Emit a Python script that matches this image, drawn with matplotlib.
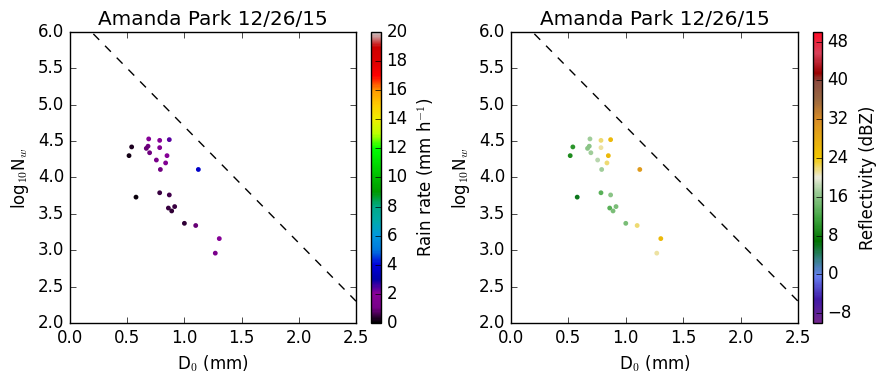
import matplotlib
matplotlib.use('Agg')
import matplotlib.pyplot as plt
import numpy as np
from matplotlib.colors import LinearSegmentedColormap

plt.style.use('classic')
plt.rcParams['figure.facecolor'] = 'white'
plt.rcParams['savefig.facecolor'] = 'white'
plt.rcParams['mathtext.fontset'] = 'cm'

# D0 (mm), log10 Nw, rain rate (mm/h), reflectivity (dBZ)
d0 = [0.516, 0.539, 0.577, 0.688, 0.682, 0.667, 0.696, 0.755, 0.784, 0.784,
      0.868, 0.848, 0.836, 0.790, 1.122, 0.784, 0.868, 0.860, 0.889, 0.915,
      1.000, 1.099, 1.305, 1.270]
lognw = [4.30, 4.42, 3.73, 4.53, 4.43, 4.40, 4.34, 4.24, 4.51, 4.41,
         4.52, 4.30, 4.20, 4.11, 4.11, 3.79, 3.76, 3.58, 3.54, 3.60,
         3.37, 3.34, 3.16, 2.96]
rain = [0.2, 0.3, 0.1, 1.9, 1.0, 0.9, 1.0, 1.1, 1.8, 1.6,
        2.4, 1.8, 1.6, 1.0, 3.6, 0.5, 0.6, 0.5, 0.4, 0.5,
        0.4, 0.9, 1.8, 1.2]
refl = [9, 10, 6, 17, 16, 16, 17, 18, 22, 21,
        26, 26, 22, 17, 30, 13, 16, 13, 15, 15,
        15, 22, 26, 21]

title = 'Amanda Park 12/26/15'

# reference line log10Nw = 6.3 - 1.6*D0
line_x = [0.0, 2.5]
line_y = [6.3, 2.3]

zcolors = [
    (0.00, (0.45, 0.15, 0.55)),
    (0.08, (0.25, 0.10, 0.65)),
    (0.16, (0.40, 0.50, 0.95)),
    (0.22, (0.20, 0.50, 0.50)),
    (0.28, (0.00, 0.45, 0.00)),
    (0.36, (0.25, 0.65, 0.25)),
    (0.45, (0.62, 0.80, 0.60)),
    (0.50, (0.92, 0.92, 0.85)),
    (0.57, (0.95, 0.78, 0.00)),
    (0.70, (0.85, 0.55, 0.15)),
    (0.77, (0.60, 0.40, 0.25)),
    (0.83, (0.55, 0.30, 0.25)),
    (0.86, (0.60, 0.00, 0.00)),
    (0.93, (0.85, 0.25, 0.35)),
    (1.00, (1.00, 0.05, 0.15)),
]
zcmap = LinearSegmentedColormap.from_list('refl', zcolors)

fig = plt.figure(figsize=(8.86, 3.86), dpi=100)
ax1 = fig.add_axes([0.079, 0.1632, 0.3228, 0.754])
cax1 = fig.add_axes([0.4187, 0.1632, 0.0113, 0.754])
ax2 = fig.add_axes([0.5767, 0.1632, 0.324, 0.754])
cax2 = fig.add_axes([0.9176, 0.1632, 0.0102, 0.754])

sc1 = ax1.scatter(d0, lognw, c=rain, cmap='nipy_spectral', vmin=0, vmax=20,
                  s=12, linewidths=0)
sc2 = ax2.scatter(d0, lognw, c=refl, cmap=zcmap, vmin=-10, vmax=50,
                  s=12, linewidths=0)

for ax in (ax1, ax2):
    ax.plot(line_x, line_y, 'k--')
    ax.set_xlim(0, 2.5)
    ax.set_ylim(2, 6)
    ax.set_xticks(np.arange(0, 2.51, 0.5))
    ax.set_yticks(np.arange(2, 6.01, 0.5))
    ax.set_xlabel('D$_0$ (mm)')
    ax.set_ylabel('log$_{10}$N$_w$')
    ax.set_title(title)

cb1 = fig.colorbar(sc1, cax=cax1, ticks=np.arange(0, 21, 2))
cb1.set_label('Rain rate (mm h$^{-1}$)')
cb2 = fig.colorbar(sc2, cax=cax2, ticks=np.arange(-8, 49, 8))
cb2.set_label('Reflectivity (dBZ)')

fig.savefig('out.png', dpi=100)
